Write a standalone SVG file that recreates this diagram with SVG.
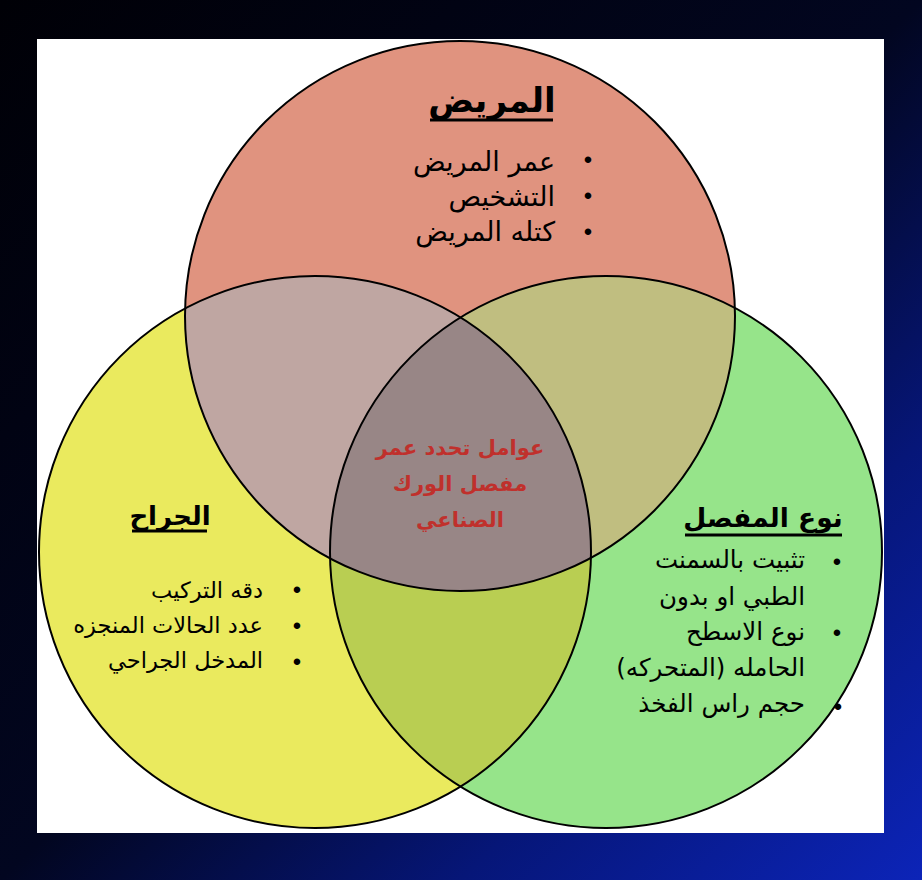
<svg xmlns="http://www.w3.org/2000/svg" width="922" height="880" viewBox="0 0 922 880">
<style>
.ar{font-family:"DejaVu Sans","Liberation Sans",sans-serif;direction:rtl;}
.item{fill:#000;}
.ttl{font-weight:bold;fill:#000;}
.ctr{font-family:"DejaVu Sans","Liberation Sans",sans-serif;font-weight:bold;font-size:21px;fill:#c0302c;text-anchor:middle;direction:rtl;}
.bul{font-family:"Liberation Sans",sans-serif;font-size:24px;fill:#000;text-anchor:middle;}
.ul{stroke:#000;stroke-width:3;}
.edge{fill:none;stroke:#000;stroke-width:2;}
</style>
<defs>
<linearGradient id="bg" x1="0" y1="0" x2="1" y2="1">
<stop offset="0" stop-color="#000006"/>
<stop offset="0.5" stop-color="#020620"/>
<stop offset="0.75" stop-color="#061678"/>
<stop offset="1" stop-color="#0c24b8"/>
</linearGradient>
<circle id="cirR" cx="460" cy="316" r="275"/>
<circle id="cirY" cx="315" cy="552" r="276"/>
<circle id="cirG" cx="606" cy="552" r="276"/>
<clipPath id="cR"><use href="#cirR"/></clipPath>
<clipPath id="cY"><use href="#cirY"/></clipPath>
</defs>
<rect width="922" height="880" fill="url(#bg)"/>
<rect x="37" y="39" width="847" height="794" fill="#fff"/>

<g id="fills">
<use href="#cirR" fill="#e0937f"/>
<use href="#cirY" fill="#eaea5e"/>
<use href="#cirG" fill="#96e48a"/>
<use href="#cirY" fill="#bfa6a2" clip-path="url(#cR)"/>
<use href="#cirG" fill="#c0be80" clip-path="url(#cR)"/>
<use href="#cirG" fill="#b9ce52" clip-path="url(#cY)"/>
<g clip-path="url(#cR)"><use href="#cirG" fill="#988686" clip-path="url(#cY)"/></g>
</g>

<g id="node-patient">
<use href="#cirR" class="edge"/>
<text class="ar ttl" x="492" y="112" font-size="34" text-anchor="middle">المريض</text>
<line class="ul" x1="430" y1="120" x2="553" y2="120"/>
<text class="bul" x="588" y="168">•</text>
<text class="bul" x="588" y="204">•</text>
<text class="bul" x="588" y="240">•</text>
<text class="ar item" x="555" y="171" font-size="27">عمر المريض</text>
<text class="ar item" x="555" y="206" font-size="27">التشخيص</text>
<text class="ar item" x="555" y="241" font-size="27">كتله المريض</text>
</g>

<g id="node-surgeon">
<use href="#cirY" class="edge"/>
<text class="ar ttl" x="170" y="525" font-size="26" text-anchor="middle">الجراح</text>
<line class="ul" x1="132" y1="531" x2="207" y2="531"/>
<text class="bul" x="297" y="598">•</text>
<text class="bul" x="297" y="634">•</text>
<text class="bul" x="297" y="670">•</text>
<text class="ar item" x="263" y="598" font-size="22.5">دقه التركيب</text>
<text class="ar item" x="263" y="633" font-size="22.5">عدد الحالات المنجزه</text>
<text class="ar item" x="263" y="668" font-size="22.5">المدخل الجراحي</text>
</g>

<g id="node-joint">
<use href="#cirG" class="edge"/>
<text class="ar ttl" x="763" y="527" font-size="26.5" text-anchor="middle">نوع المفصل</text>
<line class="ul" x1="685" y1="535" x2="842" y2="535"/>
<text class="bul" x="837" y="570">•</text>
<text class="bul" x="837" y="641">•</text>
<text class="bul" x="838" y="715">•</text>
<text class="ar item" x="805" y="568" font-size="24.5">تثبيت بالسمنت</text>
<text class="ar item" x="805" y="605" font-size="24.5">الطبي او بدون</text>
<text class="ar item" x="805" y="640" font-size="24.5">نوع الاسطح</text>
<text class="ar item" x="805" y="676" font-size="24.5">الحامله (المتحركه)</text>
<text class="ar item" x="805" y="712" font-size="24.5">حجم راس الفخذ</text>
</g>

<g id="node-center">
<text class="ctr" x="460" y="455">عوامل تحدد عمر</text>
<text class="ctr" x="460" y="491">مفصل الورك</text>
<text class="ctr" x="460" y="527">الصناعي</text>
</g>
</svg>
